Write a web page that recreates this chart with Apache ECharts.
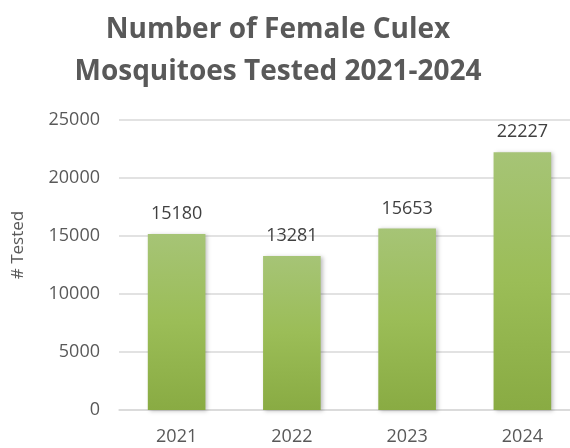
<!DOCTYPE html>
<html><head><meta charset="utf-8">
<script src="https://cdn.jsdelivr.net/npm/echarts@6/dist/echarts.min.js"></script>
<style>html,body{margin:0;padding:0;background:#fff}#c{width:570px;height:448px}</style>
</head><body><div id="c"></div>
<script>
const categories = ['2021', '2022', '2023', '2024'];
const tested = [15180, 13281, 15653, 22227];
const titleLines = ['Number of Female Culex', 'Mosquitoes Tested 2021-2024'];
const yAxisName = '# Tested';

const chart = echarts.init(document.getElementById('c'));
chart.setOption({
  animation: false,
  title: {
    text: titleLines.join('\n'),
    left: 273, top: 4, textAlign: 'center',
    textStyle: { fontFamily: 'Open Sans', fontWeight: 'bold', fontSize: 28, color: '#595959', lineHeight: 42 }
  },
  grid: { left: 119, width: 461, top: 120, height: 290, containLabel: false, outerBoundsMode: 'none' },
  xAxis: {
    type: 'category', data: categories,
    axisLine: { lineStyle: { color: '#d9d9d9', width: 1.5 } },
    axisTick: { show: false },
    axisLabel: { color: '#595959', fontSize: 18, fontFamily: 'Open Sans', margin: 18 }
  },
  yAxis: {
    type: 'value', min: 0, max: 25000, interval: 5000,
    name: yAxisName, nameLocation: 'middle', nameGap: 92, nameRotate: 90,
    nameTextStyle: { color: '#595959', fontSize: 17, fontFamily: 'Open Sans', padding: [0, 0, 0, 40] },
    axisLine: { show: false }, axisTick: { show: false },
    axisLabel: { color: '#595959', fontSize: 18, fontFamily: 'Open Sans', margin: 19, formatter: v => String(v) },
    splitLine: { lineStyle: { color: '#d9d9d9', width: 1.5 } }
  },
  series: [{
    type: 'bar', data: tested, barWidth: '50%',
    itemStyle: {
      color: new echarts.graphic.LinearGradient(0, 0, 0, 1, [
        { offset: 0, color: '#a6c476' },
        { offset: 0.5, color: '#9bbd57' },
        { offset: 1, color: '#89ab43' }
      ]),
      shadowColor: 'rgba(0,0,0,0.25)', shadowBlur: 4, shadowOffsetX: 2, shadowOffsetY: 1
    },
    label: { show: true, position: 'top', distance: 11, color: '#404040', fontSize: 18, fontFamily: 'Open Sans' }
  }]
});
</script></body></html>
